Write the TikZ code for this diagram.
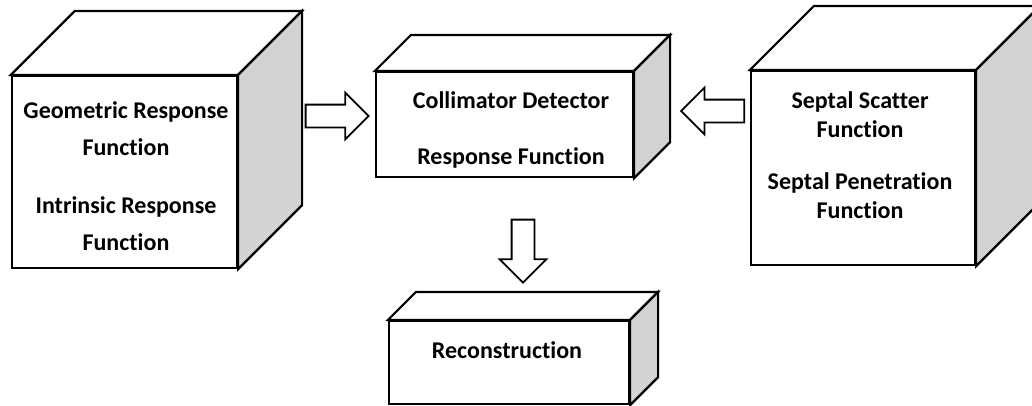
\documentclass[tikz,border=0pt]{standalone}
\usepackage{fontspec}
\setmainfont{Carlito}[Ligatures=NoCommon]
\tikzset{>=stealth}
\usetikzlibrary{calc,shapes.arrows}
\tikzset{
  face/.style={draw, line width=2.2pt, fill=white, inner sep=0pt},
  side/.style={line width=2.2pt, line join=miter},
  txt/.style={align=center, inner sep=0pt, anchor=base},
  blockarrow/.style={draw, line width=1.8pt, fill=white, single arrow, single arrow head extend=12pt,
    minimum height=63pt, inner sep=10.5pt, anchor=tip}
}
% top and right face of a box, #1 = front node, #2 = depth
\newcommand{\boxsides}[2]{%
  \draw[side, fill=white] (#1.north west) -- ++(#2,-#2) -- ($(#1.north east)+(#2,-#2)$) -- (#1.north east) -- cycle;
  \draw[side, fill=gray!35] (#1.north east) -- ++(#2,-#2) -- ($(#1.south east)+(#2,-#2)$) -- (#1.south east) -- cycle;
}

\begin{document}
\begin{tikzpicture}[x=1pt,y=-1pt]
\useasboundingbox (0,0) rectangle (1032,405);
% the four boxes
\node[face, minimum width=225pt, minimum height=192pt] (geo) at (124.5,172) {};
\boxsides{geo}{64}
\node[face, minimum width=257pt, minimum height=105pt] (cdr) at (504.5,124.5) {};
\boxsides{cdr}{36}
\node[face, minimum width=224pt, minimum height=194pt] (sep) at (863,168) {};
\boxsides{sep}{64}
\node[face, minimum width=240pt, minimum height=83pt] (rec) at (509,362.5) {};
\boxsides{rec}{28}
% texts (base = last line)
\node[txt, font=\fontsize{24}{37}\selectfont\bfseries] (geotxt) at (126,250)
  {Geometric Response\\ Function\\[21pt] Intrinsic Response\\ Function};
\node[txt, font=\fontsize{24}{56}\selectfont\bfseries] (cdrtxt) at (511,164)
  {Collimator Detector\\ Response Function};
\node[txt, font=\fontsize{24}{29}\selectfont\bfseries] (septxt) at (860,218)
  {Septal Scatter\\ Function\\[23pt] Septal Penetration\\ Function};
\node[txt, font=\fontsize{24}{26}\selectfont\bfseries] (rectxt) at (507,358) {Reconstruction};
% arrows
\node[blockarrow] (geoarrow) at ($(cdr.west)+(-5,-8.5)$) {};
\node[blockarrow, shape border rotate=180] (separrow) at ($(sep.west)+(-70,-57)$) {};
\node[blockarrow, shape border rotate=270] (recarrow) at ($(rec.north)+(14,-36)$) {};
\end{tikzpicture}
\end{document}
